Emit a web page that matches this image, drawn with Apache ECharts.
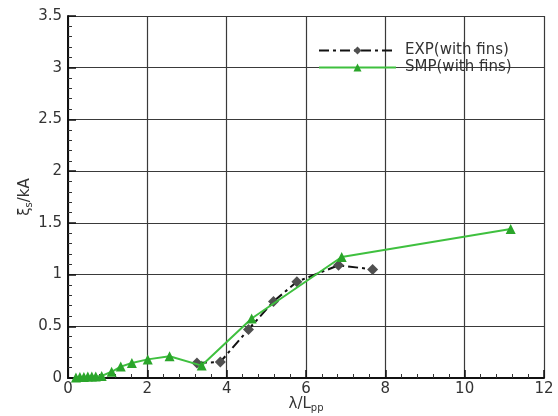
<!DOCTYPE html>
<html>
<head>
<meta charset="utf-8">
<script src="https://cdn.jsdelivr.net/npm/echarts@6/dist/echarts.min.js"></script>
<style>
  html, body { margin: 0; padding: 0; background: #fff; }
  #chart { width: 558px; height: 416px; }
</style>
</head>
<body>
<div id="chart"></div>
<script>
// Measured response, with fins
const expX = [3.25, 3.84, 4.55, 5.18, 5.77, 6.82, 7.68];
const expY = [0.145, 0.155, 0.47, 0.74, 0.93, 1.09, 1.05];

// Simulated response, with fins
const smpX = [0.2, 0.3, 0.4, 0.5, 0.6, 0.7, 0.85, 1.1, 1.33, 1.61, 2.01, 2.56, 3.37, 4.63, 6.9, 11.16];
const smpY = [0.005, 0.01, 0.01, 0.015, 0.015, 0.015, 0.02, 0.06, 0.11, 0.145, 0.18, 0.21, 0.12, 0.575, 1.17, 1.44];

const xTicks = { min: 0, max: 12, interval: 2 };
const yTicks = { min: 0, max: 3.5, interval: 0.5 };

const pair = (xs, ys) => xs.map((x, i) => [x, ys[i]]);

const font = '"DejaVu Sans", Verdana, sans-serif';
const textColor = '#333';

const chart = echarts.init(document.getElementById('chart'), null, { renderer: 'canvas' });

const axisCommon = {
  type: 'value',
  axisLine: { show: true, lineStyle: { color: '#111', width: 2 } },
  axisTick: { show: true, inside: true, length: 8, lineStyle: { color: '#111', width: 1.5 } },
  minorTick: { show: true, splitNumber: 5, length: 4, lineStyle: { color: '#333', width: 1 } },
  splitLine: { show: true, lineStyle: { color: '#3a3a3a', width: 1.2 } }
};

const subRich = { sub: { fontSize: 10, fontFamily: font, color: textColor, verticalAlign: 'bottom', padding: [8, 0, 0, 0] } };

chart.setOption({
  animation: false,
  backgroundColor: '#fff',
  grid: { left: 68, top: 16, width: 476, height: 362, show: false, outerBoundsMode: 'none', containLabel: false },
  legend: {
    orient: 'vertical',
    left: 313,
    top: 38,
    itemWidth: 77,
    itemHeight: 10,
    itemGap: 2,
    textStyle: { color: textColor, fontFamily: font, fontSize: 15, padding: [0, 0, 0, 4] },
    data: ['EXP(with fins)', 'SMP(with fins)']
  },
  xAxis: Object.assign({}, axisCommon, {
    min: xTicks.min, max: xTicks.max, interval: xTicks.interval,
    name: 'λ/L{sub|pp}',
    nameLocation: 'middle',
    nameGap: 17,
    nameMoveOverlap: false,
    nameTextStyle: { color: textColor, fontFamily: font, fontSize: 15, rich: subRich },
    axisLabel: { color: textColor, fontFamily: font, fontSize: 15, margin: 4 }
  }),
  yAxis: Object.assign({}, axisCommon, {
    min: yTicks.min, max: yTicks.max, interval: yTicks.interval,
    name: 'ξ{sub|s}/kA',
    nameLocation: 'middle',
    nameRotate: 90,
    nameGap: 34,
    nameMoveOverlap: false,
    nameTextStyle: { color: textColor, fontFamily: font, fontSize: 15, rich: subRich },
    axisLabel: { color: textColor, fontFamily: font, fontSize: 15, margin: 6 }
  }),
  series: [
    {
      name: 'EXP(with fins)',
      type: 'line',
      data: pair(expX, expY),
      symbol: 'diamond',
      symbolSize: 11,
      itemStyle: { color: '#505050' },
      lineStyle: { color: '#111', width: 2, type: [10, 4, 3, 4] },
      z: 3
    },
    {
      name: 'SMP(with fins)',
      type: 'line',
      data: pair(smpX, smpY),
      symbol: 'triangle',
      symbolSize: 10,
      itemStyle: { color: '#2aa52a' },
      lineStyle: { color: '#3fc03f', width: 2 },
      z: 4
    }
  ]
});
</script>
</body>
</html>
